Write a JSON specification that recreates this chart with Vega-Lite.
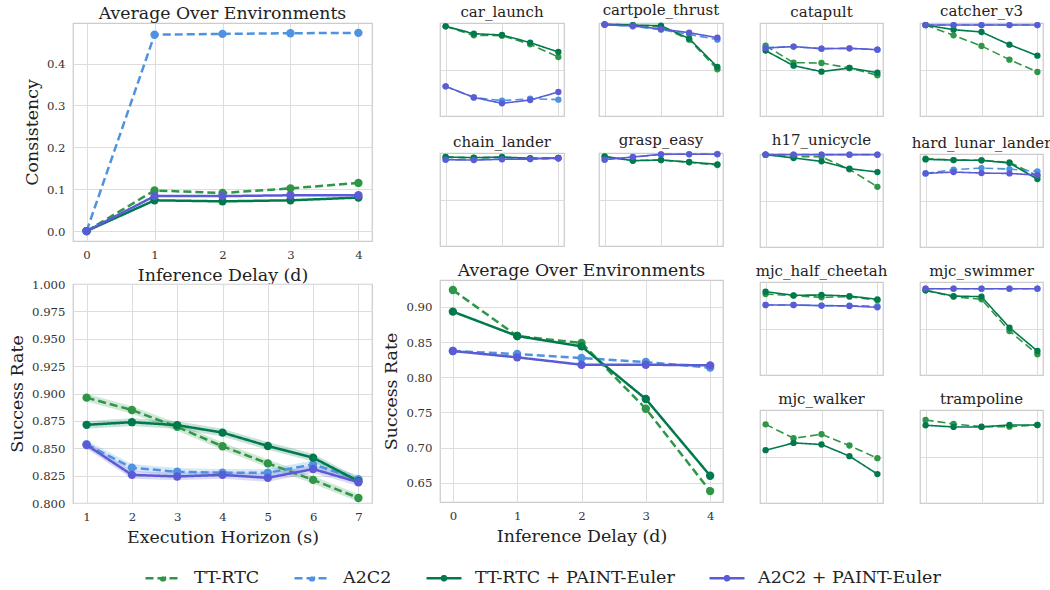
{
"$schema": "https://vega.github.io/schema/vega-lite/v6.json",
"background": "white",
"padding": {"left": 7, "top": 2, "right": 5, "bottom": 5},
"config": {
  "font": "DejaVu Serif",
  "view": {"stroke": "#cccccc", "strokeWidth": 1.25},
  "axis": {"domain": false, "ticks": false, "grid": true, "gridColor": "#dddddd", "gridWidth": 1, "labelFont": "DejaVu Serif", "labelFontSize": 11.7, "labelColor": "#333333", "labelPadding": 8, "labelOverlap": false, "titleFont": "DejaVu Serif", "titleFontSize": 17.4, "titleFontWeight": "normal", "titleColor": "#222222"},
  "axisX": {"titlePadding": 6},
  "axisY": {"titlePadding": 5},
  "title": {"font": "DejaVu Serif", "fontSize": 17.3, "fontWeight": "normal", "color": "#222222", "offset": 1},
  "legend": {"orient": "none", "legendX": 71, "legendY": 536, "direction": "horizontal", "columns": 4, "symbolType": "M-1,0L1,0M-0.12,0A0.12,0.12,0,1,0,0.12,0A0.12,0.12,0,1,0,-0.12,0", "symbolSize": 1225, "symbolStrokeWidth": 2.5, "labelFont": "DejaVu Serif", "labelFontSize": 17.5, "labelColor": "#222222", "labelOffset": 12, "labelLimit": 0, "columnPadding": 29}
},
"datasets": {
"d": [
{"panel":"consistency","method":"TT-RTC","x":0,"y":0},{"panel":"consistency","method":"TT-RTC","x":1,"y":0.097},{"panel":"consistency","method":"TT-RTC","x":2,"y":0.091},{"panel":"consistency","method":"TT-RTC","x":3,"y":0.102},{"panel":"consistency","method":"TT-RTC","x":4,"y":0.115},
{"panel":"consistency","method":"A2C2","x":0,"y":0},{"panel":"consistency","method":"A2C2","x":1,"y":0.469},{"panel":"consistency","method":"A2C2","x":2,"y":0.471},{"panel":"consistency","method":"A2C2","x":3,"y":0.4725},{"panel":"consistency","method":"A2C2","x":4,"y":0.4735},
{"panel":"consistency","method":"TT-RTC + PAINT-Euler","x":0,"y":0},{"panel":"consistency","method":"TT-RTC + PAINT-Euler","x":1,"y":0.0735},{"panel":"consistency","method":"TT-RTC + PAINT-Euler","x":2,"y":0.071},{"panel":"consistency","method":"TT-RTC + PAINT-Euler","x":3,"y":0.0735},{"panel":"consistency","method":"TT-RTC + PAINT-Euler","x":4,"y":0.080},
{"panel":"consistency","method":"A2C2 + PAINT-Euler","x":0,"y":0},{"panel":"consistency","method":"A2C2 + PAINT-Euler","x":1,"y":0.0835},{"panel":"consistency","method":"A2C2 + PAINT-Euler","x":2,"y":0.0835},{"panel":"consistency","method":"A2C2 + PAINT-Euler","x":3,"y":0.0855},{"panel":"consistency","method":"A2C2 + PAINT-Euler","x":4,"y":0.0855},

{"panel":"horizon","method":"TT-RTC","x":1,"y":0.8962},{"panel":"horizon","method":"TT-RTC","x":2,"y":0.8849},{"panel":"horizon","method":"TT-RTC","x":3,"y":0.8695},{"panel":"horizon","method":"TT-RTC","x":4,"y":0.8518},{"panel":"horizon","method":"TT-RTC","x":5,"y":0.8362},{"panel":"horizon","method":"TT-RTC","x":6,"y":0.8211},{"panel":"horizon","method":"TT-RTC","x":7,"y":0.8046},
{"panel":"horizon","method":"A2C2","x":1,"y":0.8536},{"panel":"horizon","method":"A2C2","x":2,"y":0.8322},{"panel":"horizon","method":"A2C2","x":3,"y":0.8285},{"panel":"horizon","method":"A2C2","x":4,"y":0.8276},{"panel":"horizon","method":"A2C2","x":5,"y":0.8276},{"panel":"horizon","method":"A2C2","x":6,"y":0.8352},{"panel":"horizon","method":"A2C2","x":7,"y":0.8218},
{"panel":"horizon","method":"TT-RTC + PAINT-Euler","x":1,"y":0.8714},{"panel":"horizon","method":"TT-RTC + PAINT-Euler","x":2,"y":0.8738},{"panel":"horizon","method":"TT-RTC + PAINT-Euler","x":3,"y":0.8711},{"panel":"horizon","method":"TT-RTC + PAINT-Euler","x":4,"y":0.8643},{"panel":"horizon","method":"TT-RTC + PAINT-Euler","x":5,"y":0.8521},{"panel":"horizon","method":"TT-RTC + PAINT-Euler","x":6,"y":0.8414},{"panel":"horizon","method":"TT-RTC + PAINT-Euler","x":7,"y":0.8199},
{"panel":"horizon","method":"A2C2 + PAINT-Euler","x":1,"y":0.853},{"panel":"horizon","method":"A2C2 + PAINT-Euler","x":2,"y":0.8257},{"panel":"horizon","method":"A2C2 + PAINT-Euler","x":3,"y":0.8242},{"panel":"horizon","method":"A2C2 + PAINT-Euler","x":4,"y":0.8257},{"panel":"horizon","method":"A2C2 + PAINT-Euler","x":5,"y":0.823},{"panel":"horizon","method":"A2C2 + PAINT-Euler","x":6,"y":0.831},{"panel":"horizon","method":"A2C2 + PAINT-Euler","x":7,"y":0.819},

{"panel":"success","method":"TT-RTC","x":0,"y":0.9242},{"panel":"success","method":"TT-RTC","x":1,"y":0.8587},{"panel":"success","method":"TT-RTC","x":2,"y":0.8488},{"panel":"success","method":"TT-RTC","x":3,"y":0.7553},{"panel":"success","method":"TT-RTC","x":4,"y":0.6381},
{"panel":"success","method":"A2C2","x":0,"y":0.8374},{"panel":"success","method":"A2C2","x":1,"y":0.8331},{"panel":"success","method":"A2C2","x":2,"y":0.8274},{"panel":"success","method":"A2C2","x":3,"y":0.8217},{"panel":"success","method":"A2C2","x":4,"y":0.8137},
{"panel":"success","method":"TT-RTC + PAINT-Euler","x":0,"y":0.8934},{"panel":"success","method":"TT-RTC + PAINT-Euler","x":1,"y":0.8587},{"panel":"success","method":"TT-RTC + PAINT-Euler","x":2,"y":0.844},{"panel":"success","method":"TT-RTC + PAINT-Euler","x":3,"y":0.7691},{"panel":"success","method":"TT-RTC + PAINT-Euler","x":4,"y":0.660},
{"panel":"success","method":"A2C2 + PAINT-Euler","x":0,"y":0.8374},{"panel":"success","method":"A2C2 + PAINT-Euler","x":1,"y":0.8284},{"panel":"success","method":"A2C2 + PAINT-Euler","x":2,"y":0.8179},{"panel":"success","method":"A2C2 + PAINT-Euler","x":3,"y":0.8179},{"panel":"success","method":"A2C2 + PAINT-Euler","x":4,"y":0.817},

{"panel":"car_launch","method":"TT-RTC","x":0,"y":0.964},{"panel":"car_launch","method":"TT-RTC","x":1,"y":0.867},{"panel":"car_launch","method":"TT-RTC","x":2,"y":0.864},{"panel":"car_launch","method":"TT-RTC","x":3,"y":0.771},{"panel":"car_launch","method":"TT-RTC","x":4,"y":0.634},
{"panel":"car_launch","method":"A2C2","x":0,"y":0.319},{"panel":"car_launch","method":"A2C2","x":1,"y":0.2},{"panel":"car_launch","method":"A2C2","x":2,"y":0.165},{"panel":"car_launch","method":"A2C2","x":3,"y":0.186},{"panel":"car_launch","method":"A2C2","x":4,"y":0.176},
{"panel":"car_launch","method":"TT-RTC + PAINT-Euler","x":0,"y":0.964},{"panel":"car_launch","method":"TT-RTC + PAINT-Euler","x":1,"y":0.885},{"panel":"car_launch","method":"TT-RTC + PAINT-Euler","x":2,"y":0.871},{"panel":"car_launch","method":"TT-RTC + PAINT-Euler","x":3,"y":0.789},{"panel":"car_launch","method":"TT-RTC + PAINT-Euler","x":4,"y":0.688},
{"panel":"car_launch","method":"A2C2 + PAINT-Euler","x":0,"y":0.319},{"panel":"car_launch","method":"A2C2 + PAINT-Euler","x":1,"y":0.2},{"panel":"car_launch","method":"A2C2 + PAINT-Euler","x":2,"y":0.136},{"panel":"car_launch","method":"A2C2 + PAINT-Euler","x":3,"y":0.172},{"panel":"car_launch","method":"A2C2 + PAINT-Euler","x":4,"y":0.258},

{"panel":"cartpole_thrust","method":"TT-RTC","x":0,"y":0.986},{"panel":"cartpole_thrust","method":"TT-RTC","x":1,"y":0.978},{"panel":"cartpole_thrust","method":"TT-RTC","x":2,"y":0.957},{"panel":"cartpole_thrust","method":"TT-RTC","x":3,"y":0.821},{"panel":"cartpole_thrust","method":"TT-RTC","x":4,"y":0.502},
{"panel":"cartpole_thrust","method":"A2C2","x":0,"y":0.982},{"panel":"cartpole_thrust","method":"A2C2","x":1,"y":0.965},{"panel":"cartpole_thrust","method":"A2C2","x":2,"y":0.928},{"panel":"cartpole_thrust","method":"A2C2","x":3,"y":0.878},{"panel":"cartpole_thrust","method":"A2C2","x":4,"y":0.821},
{"panel":"cartpole_thrust","method":"TT-RTC + PAINT-Euler","x":0,"y":0.986},{"panel":"cartpole_thrust","method":"TT-RTC + PAINT-Euler","x":1,"y":0.978},{"panel":"cartpole_thrust","method":"TT-RTC + PAINT-Euler","x":2,"y":0.971},{"panel":"cartpole_thrust","method":"TT-RTC + PAINT-Euler","x":3,"y":0.832},{"panel":"cartpole_thrust","method":"TT-RTC + PAINT-Euler","x":4,"y":0.527},
{"panel":"cartpole_thrust","method":"A2C2 + PAINT-Euler","x":0,"y":0.982},{"panel":"cartpole_thrust","method":"A2C2 + PAINT-Euler","x":1,"y":0.968},{"panel":"cartpole_thrust","method":"A2C2 + PAINT-Euler","x":2,"y":0.935},{"panel":"cartpole_thrust","method":"A2C2 + PAINT-Euler","x":3,"y":0.896},{"panel":"cartpole_thrust","method":"A2C2 + PAINT-Euler","x":4,"y":0.842},

{"panel":"catapult","method":"TT-RTC","x":0,"y":0.756},{"panel":"catapult","method":"TT-RTC","x":1,"y":0.573},{"panel":"catapult","method":"TT-RTC","x":2,"y":0.570},{"panel":"catapult","method":"TT-RTC","x":3,"y":0.516},{"panel":"catapult","method":"TT-RTC","x":4,"y":0.437},
{"panel":"catapult","method":"A2C2","x":0,"y":0.735},{"panel":"catapult","method":"A2C2","x":1,"y":0.746},{"panel":"catapult","method":"A2C2","x":2,"y":0.724},{"panel":"catapult","method":"A2C2","x":3,"y":0.728},{"panel":"catapult","method":"A2C2","x":4,"y":0.713},
{"panel":"catapult","method":"TT-RTC + PAINT-Euler","x":0,"y":0.703},{"panel":"catapult","method":"TT-RTC + PAINT-Euler","x":1,"y":0.541},{"panel":"catapult","method":"TT-RTC + PAINT-Euler","x":2,"y":0.477},{"panel":"catapult","method":"TT-RTC + PAINT-Euler","x":3,"y":0.516},{"panel":"catapult","method":"TT-RTC + PAINT-Euler","x":4,"y":0.466},
{"panel":"catapult","method":"A2C2 + PAINT-Euler","x":0,"y":0.731},{"panel":"catapult","method":"A2C2 + PAINT-Euler","x":1,"y":0.746},{"panel":"catapult","method":"A2C2 + PAINT-Euler","x":2,"y":0.724},{"panel":"catapult","method":"A2C2 + PAINT-Euler","x":3,"y":0.728},{"panel":"catapult","method":"A2C2 + PAINT-Euler","x":4,"y":0.713},

{"panel":"catcher_v3","method":"TT-RTC","x":0,"y":0.978},{"panel":"catcher_v3","method":"TT-RTC","x":1,"y":0.867},{"panel":"catcher_v3","method":"TT-RTC","x":2,"y":0.753},{"panel":"catcher_v3","method":"TT-RTC","x":3,"y":0.606},{"panel":"catcher_v3","method":"TT-RTC","x":4,"y":0.473},
{"panel":"catcher_v3","method":"A2C2","x":0,"y":0.978},{"panel":"catcher_v3","method":"A2C2","x":1,"y":0.978},{"panel":"catcher_v3","method":"A2C2","x":2,"y":0.978},{"panel":"catcher_v3","method":"A2C2","x":3,"y":0.978},{"panel":"catcher_v3","method":"A2C2","x":4,"y":0.978},
{"panel":"catcher_v3","method":"TT-RTC + PAINT-Euler","x":0,"y":0.978},{"panel":"catcher_v3","method":"TT-RTC + PAINT-Euler","x":1,"y":0.928},{"panel":"catcher_v3","method":"TT-RTC + PAINT-Euler","x":2,"y":0.903},{"panel":"catcher_v3","method":"TT-RTC + PAINT-Euler","x":3,"y":0.767},{"panel":"catcher_v3","method":"TT-RTC + PAINT-Euler","x":4,"y":0.649},
{"panel":"catcher_v3","method":"A2C2 + PAINT-Euler","x":0,"y":0.978},{"panel":"catcher_v3","method":"A2C2 + PAINT-Euler","x":1,"y":0.978},{"panel":"catcher_v3","method":"A2C2 + PAINT-Euler","x":2,"y":0.978},{"panel":"catcher_v3","method":"A2C2 + PAINT-Euler","x":3,"y":0.978},{"panel":"catcher_v3","method":"A2C2 + PAINT-Euler","x":4,"y":0.978},

{"panel":"chain_lander","method":"TT-RTC","x":0,"y":0.955},{"panel":"chain_lander","method":"TT-RTC","x":1,"y":0.948},{"panel":"chain_lander","method":"TT-RTC","x":2,"y":0.952},{"panel":"chain_lander","method":"TT-RTC","x":3,"y":0.945},{"panel":"chain_lander","method":"TT-RTC","x":4,"y":0.946},
{"panel":"chain_lander","method":"A2C2","x":0,"y":0.93},{"panel":"chain_lander","method":"A2C2","x":1,"y":0.93},{"panel":"chain_lander","method":"A2C2","x":2,"y":0.935},{"panel":"chain_lander","method":"A2C2","x":3,"y":0.935},{"panel":"chain_lander","method":"A2C2","x":4,"y":0.94},
{"panel":"chain_lander","method":"TT-RTC + PAINT-Euler","x":0,"y":0.957},{"panel":"chain_lander","method":"TT-RTC + PAINT-Euler","x":1,"y":0.95},{"panel":"chain_lander","method":"TT-RTC + PAINT-Euler","x":2,"y":0.957},{"panel":"chain_lander","method":"TT-RTC + PAINT-Euler","x":3,"y":0.943},{"panel":"chain_lander","method":"TT-RTC + PAINT-Euler","x":4,"y":0.946},
{"panel":"chain_lander","method":"A2C2 + PAINT-Euler","x":0,"y":0.928},{"panel":"chain_lander","method":"A2C2 + PAINT-Euler","x":1,"y":0.924},{"panel":"chain_lander","method":"A2C2 + PAINT-Euler","x":2,"y":0.932},{"panel":"chain_lander","method":"A2C2 + PAINT-Euler","x":3,"y":0.935},{"panel":"chain_lander","method":"A2C2 + PAINT-Euler","x":4,"y":0.943},

{"panel":"grasp_easy","method":"TT-RTC","x":0,"y":0.96},{"panel":"grasp_easy","method":"TT-RTC","x":1,"y":0.92},{"panel":"grasp_easy","method":"TT-RTC","x":2,"y":0.925},{"panel":"grasp_easy","method":"TT-RTC","x":3,"y":0.90},{"panel":"grasp_easy","method":"TT-RTC","x":4,"y":0.87},
{"panel":"grasp_easy","method":"A2C2","x":0,"y":0.93},{"panel":"grasp_easy","method":"A2C2","x":1,"y":0.955},{"panel":"grasp_easy","method":"A2C2","x":2,"y":0.985},{"panel":"grasp_easy","method":"A2C2","x":3,"y":0.988},{"panel":"grasp_easy","method":"A2C2","x":4,"y":0.99},
{"panel":"grasp_easy","method":"TT-RTC + PAINT-Euler","x":0,"y":0.964},{"panel":"grasp_easy","method":"TT-RTC + PAINT-Euler","x":1,"y":0.917},{"panel":"grasp_easy","method":"TT-RTC + PAINT-Euler","x":2,"y":0.924},{"panel":"grasp_easy","method":"TT-RTC + PAINT-Euler","x":3,"y":0.903},{"panel":"grasp_easy","method":"TT-RTC + PAINT-Euler","x":4,"y":0.878},
{"panel":"grasp_easy","method":"A2C2 + PAINT-Euler","x":0,"y":0.928},{"panel":"grasp_easy","method":"A2C2 + PAINT-Euler","x":1,"y":0.957},{"panel":"grasp_easy","method":"A2C2 + PAINT-Euler","x":2,"y":0.986},{"panel":"grasp_easy","method":"A2C2 + PAINT-Euler","x":3,"y":0.986},{"panel":"grasp_easy","method":"A2C2 + PAINT-Euler","x":4,"y":0.986},

{"panel":"h17_unicycle","method":"TT-RTC","x":0,"y":0.993},{"panel":"h17_unicycle","method":"TT-RTC","x":1,"y":0.97},{"panel":"h17_unicycle","method":"TT-RTC","x":2,"y":0.97},{"panel":"h17_unicycle","method":"TT-RTC","x":3,"y":0.835},{"panel":"h17_unicycle","method":"TT-RTC","x":4,"y":0.647},
{"panel":"h17_unicycle","method":"A2C2","x":0,"y":0.993},{"panel":"h17_unicycle","method":"A2C2","x":1,"y":0.993},{"panel":"h17_unicycle","method":"A2C2","x":2,"y":0.993},{"panel":"h17_unicycle","method":"A2C2","x":3,"y":0.993},{"panel":"h17_unicycle","method":"A2C2","x":4,"y":0.993},
{"panel":"h17_unicycle","method":"TT-RTC + PAINT-Euler","x":0,"y":0.993},{"panel":"h17_unicycle","method":"TT-RTC + PAINT-Euler","x":1,"y":0.957},{"panel":"h17_unicycle","method":"TT-RTC + PAINT-Euler","x":2,"y":0.921},{"panel":"h17_unicycle","method":"TT-RTC + PAINT-Euler","x":3,"y":0.842},{"panel":"h17_unicycle","method":"TT-RTC + PAINT-Euler","x":4,"y":0.806},
{"panel":"h17_unicycle","method":"A2C2 + PAINT-Euler","x":0,"y":0.993},{"panel":"h17_unicycle","method":"A2C2 + PAINT-Euler","x":1,"y":0.993},{"panel":"h17_unicycle","method":"A2C2 + PAINT-Euler","x":2,"y":0.993},{"panel":"h17_unicycle","method":"A2C2 + PAINT-Euler","x":3,"y":0.993},{"panel":"h17_unicycle","method":"A2C2 + PAINT-Euler","x":4,"y":0.993},

{"panel":"hard_lunar_lander","method":"TT-RTC","x":0,"y":0.95},{"panel":"hard_lunar_lander","method":"TT-RTC","x":1,"y":0.935},{"panel":"hard_lunar_lander","method":"TT-RTC","x":2,"y":0.932},{"panel":"hard_lunar_lander","method":"TT-RTC","x":3,"y":0.91},{"panel":"hard_lunar_lander","method":"TT-RTC","x":4,"y":0.766},
{"panel":"hard_lunar_lander","method":"A2C2","x":0,"y":0.791},{"panel":"hard_lunar_lander","method":"A2C2","x":1,"y":0.831},{"panel":"hard_lunar_lander","method":"A2C2","x":2,"y":0.849},{"panel":"hard_lunar_lander","method":"A2C2","x":3,"y":0.838},{"panel":"hard_lunar_lander","method":"A2C2","x":4,"y":0.813},
{"panel":"hard_lunar_lander","method":"TT-RTC + PAINT-Euler","x":0,"y":0.942},{"panel":"hard_lunar_lander","method":"TT-RTC + PAINT-Euler","x":1,"y":0.935},{"panel":"hard_lunar_lander","method":"TT-RTC + PAINT-Euler","x":2,"y":0.932},{"panel":"hard_lunar_lander","method":"TT-RTC + PAINT-Euler","x":3,"y":0.903},{"panel":"hard_lunar_lander","method":"TT-RTC + PAINT-Euler","x":4,"y":0.73},
{"panel":"hard_lunar_lander","method":"A2C2 + PAINT-Euler","x":0,"y":0.791},{"panel":"hard_lunar_lander","method":"A2C2 + PAINT-Euler","x":1,"y":0.806},{"panel":"hard_lunar_lander","method":"A2C2 + PAINT-Euler","x":2,"y":0.795},{"panel":"hard_lunar_lander","method":"A2C2 + PAINT-Euler","x":3,"y":0.791},{"panel":"hard_lunar_lander","method":"A2C2 + PAINT-Euler","x":4,"y":0.773},

{"panel":"mjc_half_cheetah","method":"TT-RTC","x":0,"y":0.871},{"panel":"mjc_half_cheetah","method":"TT-RTC","x":1,"y":0.853},{"panel":"mjc_half_cheetah","method":"TT-RTC","x":2,"y":0.835},{"panel":"mjc_half_cheetah","method":"TT-RTC","x":3,"y":0.842},{"panel":"mjc_half_cheetah","method":"TT-RTC","x":4,"y":0.803},
{"panel":"mjc_half_cheetah","method":"A2C2","x":0,"y":0.753},{"panel":"mjc_half_cheetah","method":"A2C2","x":1,"y":0.753},{"panel":"mjc_half_cheetah","method":"A2C2","x":2,"y":0.746},{"panel":"mjc_half_cheetah","method":"A2C2","x":3,"y":0.745},{"panel":"mjc_half_cheetah","method":"A2C2","x":4,"y":0.74},
{"panel":"mjc_half_cheetah","method":"TT-RTC + PAINT-Euler","x":0,"y":0.896},{"panel":"mjc_half_cheetah","method":"TT-RTC + PAINT-Euler","x":1,"y":0.857},{"panel":"mjc_half_cheetah","method":"TT-RTC + PAINT-Euler","x":2,"y":0.86},{"panel":"mjc_half_cheetah","method":"TT-RTC + PAINT-Euler","x":3,"y":0.849},{"panel":"mjc_half_cheetah","method":"TT-RTC + PAINT-Euler","x":4,"y":0.814},
{"panel":"mjc_half_cheetah","method":"A2C2 + PAINT-Euler","x":0,"y":0.753},{"panel":"mjc_half_cheetah","method":"A2C2 + PAINT-Euler","x":1,"y":0.753},{"panel":"mjc_half_cheetah","method":"A2C2 + PAINT-Euler","x":2,"y":0.746},{"panel":"mjc_half_cheetah","method":"A2C2 + PAINT-Euler","x":3,"y":0.742},{"panel":"mjc_half_cheetah","method":"A2C2 + PAINT-Euler","x":4,"y":0.728},

{"panel":"mjc_swimmer","method":"TT-RTC","x":0,"y":0.910},{"panel":"mjc_swimmer","method":"TT-RTC","x":1,"y":0.842},{"panel":"mjc_swimmer","method":"TT-RTC","x":2,"y":0.814},{"panel":"mjc_swimmer","method":"TT-RTC","x":3,"y":0.473},{"panel":"mjc_swimmer","method":"TT-RTC","x":4,"y":0.222},
{"panel":"mjc_swimmer","method":"A2C2","x":0,"y":0.928},{"panel":"mjc_swimmer","method":"A2C2","x":1,"y":0.928},{"panel":"mjc_swimmer","method":"A2C2","x":2,"y":0.928},{"panel":"mjc_swimmer","method":"A2C2","x":3,"y":0.928},{"panel":"mjc_swimmer","method":"A2C2","x":4,"y":0.928},
{"panel":"mjc_swimmer","method":"TT-RTC + PAINT-Euler","x":0,"y":0.910},{"panel":"mjc_swimmer","method":"TT-RTC + PAINT-Euler","x":1,"y":0.849},{"panel":"mjc_swimmer","method":"TT-RTC + PAINT-Euler","x":2,"y":0.842},{"panel":"mjc_swimmer","method":"TT-RTC + PAINT-Euler","x":3,"y":0.509},{"panel":"mjc_swimmer","method":"TT-RTC + PAINT-Euler","x":4,"y":0.258},
{"panel":"mjc_swimmer","method":"A2C2 + PAINT-Euler","x":0,"y":0.928},{"panel":"mjc_swimmer","method":"A2C2 + PAINT-Euler","x":1,"y":0.928},{"panel":"mjc_swimmer","method":"A2C2 + PAINT-Euler","x":2,"y":0.928},{"panel":"mjc_swimmer","method":"A2C2 + PAINT-Euler","x":3,"y":0.928},{"panel":"mjc_swimmer","method":"A2C2 + PAINT-Euler","x":4,"y":0.928},

{"panel":"mjc_walker","method":"TT-RTC","x":0,"y":0.846},{"panel":"mjc_walker","method":"TT-RTC","x":1,"y":0.696},{"panel":"mjc_walker","method":"TT-RTC","x":2,"y":0.739},{"panel":"mjc_walker","method":"TT-RTC","x":3,"y":0.618},{"panel":"mjc_walker","method":"TT-RTC","x":4,"y":0.482},
{"panel":"mjc_walker","method":"TT-RTC + PAINT-Euler","x":0,"y":0.568},{"panel":"mjc_walker","method":"TT-RTC + PAINT-Euler","x":1,"y":0.646},{"panel":"mjc_walker","method":"TT-RTC + PAINT-Euler","x":2,"y":0.629},{"panel":"mjc_walker","method":"TT-RTC + PAINT-Euler","x":3,"y":0.504},{"panel":"mjc_walker","method":"TT-RTC + PAINT-Euler","x":4,"y":0.311},

{"panel":"trampoline","method":"TT-RTC","x":0,"y":0.893},{"panel":"trampoline","method":"TT-RTC","x":1,"y":0.85},{"panel":"trampoline","method":"TT-RTC","x":2,"y":0.821},{"panel":"trampoline","method":"TT-RTC","x":3,"y":0.821},{"panel":"trampoline","method":"TT-RTC","x":4,"y":0.839},
{"panel":"trampoline","method":"TT-RTC + PAINT-Euler","x":0,"y":0.836},{"panel":"trampoline","method":"TT-RTC + PAINT-Euler","x":1,"y":0.818},{"panel":"trampoline","method":"TT-RTC + PAINT-Euler","x":2,"y":0.818},{"panel":"trampoline","method":"TT-RTC + PAINT-Euler","x":3,"y":0.839},{"panel":"trampoline","method":"TT-RTC + PAINT-Euler","x":4,"y":0.839}
],
"bands": [
{"method":"TT-RTC","x":1,"lo":0.8927,"hi":0.8997},{"method":"TT-RTC","x":2,"lo":0.8814,"hi":0.8884},{"method":"TT-RTC","x":3,"lo":0.8660,"hi":0.8730},{"method":"TT-RTC","x":4,"lo":0.8483,"hi":0.8553},{"method":"TT-RTC","x":5,"lo":0.8327,"hi":0.8397},{"method":"TT-RTC","x":6,"lo":0.8176,"hi":0.8246},{"method":"TT-RTC","x":7,"lo":0.8011,"hi":0.8081},
{"method":"A2C2","x":1,"lo":0.8501,"hi":0.8571},{"method":"A2C2","x":2,"lo":0.8287,"hi":0.8357},{"method":"A2C2","x":3,"lo":0.8250,"hi":0.8320},{"method":"A2C2","x":4,"lo":0.8241,"hi":0.8311},{"method":"A2C2","x":5,"lo":0.8241,"hi":0.8311},{"method":"A2C2","x":6,"lo":0.8317,"hi":0.8387},{"method":"A2C2","x":7,"lo":0.8183,"hi":0.8253},
{"method":"TT-RTC + PAINT-Euler","x":1,"lo":0.8679,"hi":0.8749},{"method":"TT-RTC + PAINT-Euler","x":2,"lo":0.8703,"hi":0.8773},{"method":"TT-RTC + PAINT-Euler","x":3,"lo":0.8676,"hi":0.8746},{"method":"TT-RTC + PAINT-Euler","x":4,"lo":0.8608,"hi":0.8678},{"method":"TT-RTC + PAINT-Euler","x":5,"lo":0.8486,"hi":0.8556},{"method":"TT-RTC + PAINT-Euler","x":6,"lo":0.8379,"hi":0.8449},{"method":"TT-RTC + PAINT-Euler","x":7,"lo":0.8164,"hi":0.8234},
{"method":"A2C2 + PAINT-Euler","x":1,"lo":0.8495,"hi":0.8565},{"method":"A2C2 + PAINT-Euler","x":2,"lo":0.8222,"hi":0.8292},{"method":"A2C2 + PAINT-Euler","x":3,"lo":0.8207,"hi":0.8277},{"method":"A2C2 + PAINT-Euler","x":4,"lo":0.8222,"hi":0.8292},{"method":"A2C2 + PAINT-Euler","x":5,"lo":0.8195,"hi":0.8265},{"method":"A2C2 + PAINT-Euler","x":6,"lo":0.8275,"hi":0.8345},{"method":"A2C2 + PAINT-Euler","x":7,"lo":0.8155,"hi":0.8225}
]
},
"spacing": 9,
"hconcat": [
 {"bounds": "flush", "spacing": 43, "vconcat": [
  {"width": 299, "height": 218, "title": "Average Over Environments",
   "data": {"name": "d"}, "transform": [{"filter": "datum.panel === 'consistency'"}],
   "mark": {"type": "line", "strokeWidth": 2.5, "point": {"filled": true, "size": 70, "opacity": 1}},
   "encoding": {
    "x": {"field": "x", "type": "quantitative", "scale": {"domain": [-0.2, 4.2], "nice": false, "zero": false}, "axis": {"values": [0,1,2,3,4], "format": "d", "title": "Inference Delay (d)"}},
    "y": {"field": "y", "type": "quantitative", "scale": {"domain": [-0.0237, 0.497], "nice": false, "zero": false}, "axis": {"values": [0,0.1,0.2,0.3,0.4], "format": ".1f", "title": "Consistency"}},
    "color": {"field": "method", "type": "nominal", "scale": {"domain": ["TT-RTC","A2C2","TT-RTC + PAINT-Euler","A2C2 + PAINT-Euler"], "range": ["#2e9646","#4f93e0","#007a4d","#5b5bd6"]}, "legend": {"title": null}},
    "strokeDash": {"field": "method", "type": "nominal", "scale": {"domain": ["TT-RTC","A2C2","TT-RTC + PAINT-Euler","A2C2 + PAINT-Euler"], "range": [[8,4],[8,4],[1,0],[1,0]]}, "legend": {"title": null}}
   }},
  {"width": 299, "height": 219,
   "layer": [
    {"data": {"name": "bands"},
     "mark": {"type": "area", "opacity": 0.22},
     "encoding": {
      "x": {"field": "x", "type": "quantitative", "scale": {"domain": [0.7, 7.3], "nice": false, "zero": false}, "axis": {"values": [1,2,3,4,5,6,7], "format": "d", "title": "Execution Horizon (s)"}},
      "y": {"field": "lo", "type": "quantitative", "scale": {"domain": [0.8, 1.0], "nice": false, "zero": false}, "axis": {"values": [0.8,0.825,0.85,0.875,0.9,0.925,0.95,0.975,1.0], "format": ".3f", "title": "Success Rate"}},
      "y2": {"field": "hi"},
      "color": {"field": "method", "type": "nominal", "scale": {"domain": ["TT-RTC","A2C2","TT-RTC + PAINT-Euler","A2C2 + PAINT-Euler"], "range": ["#2e9646","#4f93e0","#007a4d","#5b5bd6"]}, "legend": {"title": null}}
     }},
    {"data": {"name": "d"}, "transform": [{"filter": "datum.panel === 'horizon'"}],
     "mark": {"type": "line", "strokeWidth": 2.5, "point": {"filled": true, "size": 70, "opacity": 1}},
     "encoding": {
      "x": {"field": "x", "type": "quantitative", "scale": {"domain": [0.7, 7.3], "nice": false, "zero": false}, "axis": {"values": [1,2,3,4,5,6,7], "format": "d", "title": "Execution Horizon (s)"}},
      "y": {"field": "y", "type": "quantitative", "scale": {"domain": [0.8, 1.0], "nice": false, "zero": false}, "axis": {"values": [0.8,0.825,0.85,0.875,0.9,0.925,0.95,0.975,1.0], "format": ".3f", "title": "Success Rate"}},
      "color": {"field": "method", "type": "nominal", "scale": {"domain": ["TT-RTC","A2C2","TT-RTC + PAINT-Euler","A2C2 + PAINT-Euler"], "range": ["#2e9646","#4f93e0","#007a4d","#5b5bd6"]}, "legend": {"title": null}},
      "strokeDash": {"field": "method", "type": "nominal", "scale": {"domain": ["TT-RTC","A2C2","TT-RTC + PAINT-Euler","A2C2 + PAINT-Euler"], "range": [[8,4],[8,4],[1,0],[1,0]]}, "legend": {"title": null}}
     }}
   ]}
 ]},
 {"spacing": 31, "hconcat": [
  {"spacing": 14, "vconcat": [
   {"spacing": 15, "vconcat": [
   {"bounds": "flush", "spacing": 35, "hconcat": [
    {"width": 124, "height": 93, "title": {"text": "car_launch", "fontSize": 15, "offset": 3}, "data": {"name": "d"}, "transform": [{"filter": "datum.panel === 'car_launch'"}],
     "mark": {"type": "line", "strokeWidth": 1.6, "point": {"filled": true, "size": 40, "opacity": 1}},
     "encoding": {"x": {"field": "x", "type": "quantitative", "scale": {"domain": [-0.2, 4.2], "nice": false, "zero": false}, "axis": {"values": [0,2,4], "labels": false, "title": null}}, "y": {"field": "y", "type": "quantitative", "scale": {"domain": [0, 1], "nice": false}, "axis": {"values": [0.5], "labels": false, "title": null}},
      "color": {"field": "method", "type": "nominal", "scale": {"domain": ["TT-RTC","A2C2","TT-RTC + PAINT-Euler","A2C2 + PAINT-Euler"], "range": ["#2e9646","#4f93e0","#007a4d","#5b5bd6"]}, "legend": {"title": null}},
      "strokeDash": {"field": "method", "type": "nominal", "scale": {"domain": ["TT-RTC","A2C2","TT-RTC + PAINT-Euler","A2C2 + PAINT-Euler"], "range": [[8,4],[8,4],[1,0],[1,0]]}, "legend": {"title": null}}}},
    {"width": 124, "height": 93, "title": {"text": "cartpole_thrust", "fontSize": 15, "offset": 3}, "data": {"name": "d"}, "transform": [{"filter": "datum.panel === 'cartpole_thrust'"}],
     "mark": {"type": "line", "strokeWidth": 1.6, "point": {"filled": true, "size": 40, "opacity": 1}},
     "encoding": {"x": {"field": "x", "type": "quantitative", "scale": {"domain": [-0.2, 4.2], "nice": false, "zero": false}, "axis": {"values": [0,2,4], "labels": false, "title": null}}, "y": {"field": "y", "type": "quantitative", "scale": {"domain": [0, 1], "nice": false}, "axis": {"values": [0.5], "labels": false, "title": null}},
      "color": {"field": "method", "type": "nominal", "scale": {"domain": ["TT-RTC","A2C2","TT-RTC + PAINT-Euler","A2C2 + PAINT-Euler"], "range": ["#2e9646","#4f93e0","#007a4d","#5b5bd6"]}, "legend": {"title": null}},
      "strokeDash": {"field": "method", "type": "nominal", "scale": {"domain": ["TT-RTC","A2C2","TT-RTC + PAINT-Euler","A2C2 + PAINT-Euler"], "range": [[8,4],[8,4],[1,0],[1,0]]}, "legend": {"title": null}}}}
   ]},
   {"bounds": "flush", "spacing": 35, "hconcat": [
    {"width": 124, "height": 93, "title": {"text": "chain_lander", "fontSize": 15, "offset": 3}, "data": {"name": "d"}, "transform": [{"filter": "datum.panel === 'chain_lander'"}],
     "mark": {"type": "line", "strokeWidth": 1.6, "point": {"filled": true, "size": 40, "opacity": 1}},
     "encoding": {"x": {"field": "x", "type": "quantitative", "scale": {"domain": [-0.2, 4.2], "nice": false, "zero": false}, "axis": {"values": [0,2,4], "labels": false, "title": null}}, "y": {"field": "y", "type": "quantitative", "scale": {"domain": [0, 1], "nice": false}, "axis": {"values": [0.5], "labels": false, "title": null}},
      "color": {"field": "method", "type": "nominal", "scale": {"domain": ["TT-RTC","A2C2","TT-RTC + PAINT-Euler","A2C2 + PAINT-Euler"], "range": ["#2e9646","#4f93e0","#007a4d","#5b5bd6"]}, "legend": {"title": null}},
      "strokeDash": {"field": "method", "type": "nominal", "scale": {"domain": ["TT-RTC","A2C2","TT-RTC + PAINT-Euler","A2C2 + PAINT-Euler"], "range": [[8,4],[8,4],[1,0],[1,0]]}, "legend": {"title": null}}}},
    {"width": 124, "height": 93, "title": {"text": "grasp_easy", "fontSize": 15, "offset": 3}, "data": {"name": "d"}, "transform": [{"filter": "datum.panel === 'grasp_easy'"}],
     "mark": {"type": "line", "strokeWidth": 1.6, "point": {"filled": true, "size": 40, "opacity": 1}},
     "encoding": {"x": {"field": "x", "type": "quantitative", "scale": {"domain": [-0.2, 4.2], "nice": false, "zero": false}, "axis": {"values": [0,2,4], "labels": false, "title": null}}, "y": {"field": "y", "type": "quantitative", "scale": {"domain": [0, 1], "nice": false}, "axis": {"values": [0.5], "labels": false, "title": null}},
      "color": {"field": "method", "type": "nominal", "scale": {"domain": ["TT-RTC","A2C2","TT-RTC + PAINT-Euler","A2C2 + PAINT-Euler"], "range": ["#2e9646","#4f93e0","#007a4d","#5b5bd6"]}, "legend": {"title": null}},
      "strokeDash": {"field": "method", "type": "nominal", "scale": {"domain": ["TT-RTC","A2C2","TT-RTC + PAINT-Euler","A2C2 + PAINT-Euler"], "range": [[8,4],[8,4],[1,0],[1,0]]}, "legend": {"title": null}}}}
   ]}
   ]},
   {"width": 283, "height": 222, "title": "Average Over Environments",
    "data": {"name": "d"}, "transform": [{"filter": "datum.panel === 'success'"}],
    "mark": {"type": "line", "strokeWidth": 2.5, "point": {"filled": true, "size": 70, "opacity": 1}},
    "encoding": {
     "x": {"field": "x", "type": "quantitative", "scale": {"domain": [-0.2, 4.2], "nice": false, "zero": false}, "axis": {"values": [0,1,2,3,4], "format": "d", "title": "Inference Delay (d)"}},
     "y": {"field": "y", "type": "quantitative", "scale": {"domain": [0.6226, 0.9384], "nice": false, "zero": false}, "axis": {"values": [0.65,0.7,0.75,0.8,0.85,0.9], "format": ".2f", "title": "Success Rate"}},
     "color": {"field": "method", "type": "nominal", "scale": {"domain": ["TT-RTC","A2C2","TT-RTC + PAINT-Euler","A2C2 + PAINT-Euler"], "range": ["#2e9646","#4f93e0","#007a4d","#5b5bd6"]}, "legend": {"title": null}},
     "strokeDash": {"field": "method", "type": "nominal", "scale": {"domain": ["TT-RTC","A2C2","TT-RTC + PAINT-Euler","A2C2 + PAINT-Euler"], "range": [[8,4],[8,4],[1,0],[1,0]]}, "legend": {"title": null}}
    }}
  ]},
  {"spacing": 15, "vconcat": [
   {"bounds": "flush", "spacing": 37, "hconcat": [
    {"width": 123, "height": 93, "title": {"text": "catapult", "fontSize": 15, "offset": 3}, "data": {"name": "d"}, "transform": [{"filter": "datum.panel === 'catapult'"}],
     "mark": {"type": "line", "strokeWidth": 1.6, "point": {"filled": true, "size": 40, "opacity": 1}},
     "encoding": {"x": {"field": "x", "type": "quantitative", "scale": {"domain": [-0.2, 4.2], "nice": false, "zero": false}, "axis": {"values": [0,2,4], "labels": false, "title": null}}, "y": {"field": "y", "type": "quantitative", "scale": {"domain": [0, 1], "nice": false}, "axis": {"values": [0.5], "labels": false, "title": null}},
      "color": {"field": "method", "type": "nominal", "scale": {"domain": ["TT-RTC","A2C2","TT-RTC + PAINT-Euler","A2C2 + PAINT-Euler"], "range": ["#2e9646","#4f93e0","#007a4d","#5b5bd6"]}, "legend": {"title": null}},
      "strokeDash": {"field": "method", "type": "nominal", "scale": {"domain": ["TT-RTC","A2C2","TT-RTC + PAINT-Euler","A2C2 + PAINT-Euler"], "range": [[8,4],[8,4],[1,0],[1,0]]}, "legend": {"title": null}}}},
    {"width": 123, "height": 93, "title": {"text": "catcher_v3", "fontSize": 15, "offset": 3}, "data": {"name": "d"}, "transform": [{"filter": "datum.panel === 'catcher_v3'"}],
     "mark": {"type": "line", "strokeWidth": 1.6, "point": {"filled": true, "size": 40, "opacity": 1}},
     "encoding": {"x": {"field": "x", "type": "quantitative", "scale": {"domain": [-0.2, 4.2], "nice": false, "zero": false}, "axis": {"values": [0,2,4], "labels": false, "title": null}}, "y": {"field": "y", "type": "quantitative", "scale": {"domain": [0, 1], "nice": false}, "axis": {"values": [0.5], "labels": false, "title": null}},
      "color": {"field": "method", "type": "nominal", "scale": {"domain": ["TT-RTC","A2C2","TT-RTC + PAINT-Euler","A2C2 + PAINT-Euler"], "range": ["#2e9646","#4f93e0","#007a4d","#5b5bd6"]}, "legend": {"title": null}},
      "strokeDash": {"field": "method", "type": "nominal", "scale": {"domain": ["TT-RTC","A2C2","TT-RTC + PAINT-Euler","A2C2 + PAINT-Euler"], "range": [[8,4],[8,4],[1,0],[1,0]]}, "legend": {"title": null}}}}
   ]},
   {"bounds": "flush", "spacing": 37, "hconcat": [
    {"width": 123, "height": 93, "title": {"text": "h17_unicycle", "fontSize": 15, "offset": 3}, "data": {"name": "d"}, "transform": [{"filter": "datum.panel === 'h17_unicycle'"}],
     "mark": {"type": "line", "strokeWidth": 1.6, "point": {"filled": true, "size": 40, "opacity": 1}},
     "encoding": {"x": {"field": "x", "type": "quantitative", "scale": {"domain": [-0.2, 4.2], "nice": false, "zero": false}, "axis": {"values": [0,2,4], "labels": false, "title": null}}, "y": {"field": "y", "type": "quantitative", "scale": {"domain": [0, 1], "nice": false}, "axis": {"values": [0.5], "labels": false, "title": null}},
      "color": {"field": "method", "type": "nominal", "scale": {"domain": ["TT-RTC","A2C2","TT-RTC + PAINT-Euler","A2C2 + PAINT-Euler"], "range": ["#2e9646","#4f93e0","#007a4d","#5b5bd6"]}, "legend": {"title": null}},
      "strokeDash": {"field": "method", "type": "nominal", "scale": {"domain": ["TT-RTC","A2C2","TT-RTC + PAINT-Euler","A2C2 + PAINT-Euler"], "range": [[8,4],[8,4],[1,0],[1,0]]}, "legend": {"title": null}}}},
    {"width": 123, "height": 93, "title": {"text": "hard_lunar_lander", "fontSize": 15, "offset": 3}, "data": {"name": "d"}, "transform": [{"filter": "datum.panel === 'hard_lunar_lander'"}],
     "mark": {"type": "line", "strokeWidth": 1.6, "point": {"filled": true, "size": 40, "opacity": 1}},
     "encoding": {"x": {"field": "x", "type": "quantitative", "scale": {"domain": [-0.2, 4.2], "nice": false, "zero": false}, "axis": {"values": [0,2,4], "labels": false, "title": null}}, "y": {"field": "y", "type": "quantitative", "scale": {"domain": [0, 1], "nice": false}, "axis": {"values": [0.5], "labels": false, "title": null}},
      "color": {"field": "method", "type": "nominal", "scale": {"domain": ["TT-RTC","A2C2","TT-RTC + PAINT-Euler","A2C2 + PAINT-Euler"], "range": ["#2e9646","#4f93e0","#007a4d","#5b5bd6"]}, "legend": {"title": null}},
      "strokeDash": {"field": "method", "type": "nominal", "scale": {"domain": ["TT-RTC","A2C2","TT-RTC + PAINT-Euler","A2C2 + PAINT-Euler"], "range": [[8,4],[8,4],[1,0],[1,0]]}, "legend": {"title": null}}}}
   ]},
   {"bounds": "flush", "spacing": 37, "hconcat": [
    {"width": 123, "height": 93, "title": {"text": "mjc_half_cheetah", "fontSize": 15, "offset": 3}, "data": {"name": "d"}, "transform": [{"filter": "datum.panel === 'mjc_half_cheetah'"}],
     "mark": {"type": "line", "strokeWidth": 1.6, "point": {"filled": true, "size": 40, "opacity": 1}},
     "encoding": {"x": {"field": "x", "type": "quantitative", "scale": {"domain": [-0.2, 4.2], "nice": false, "zero": false}, "axis": {"values": [0,2,4], "labels": false, "title": null}}, "y": {"field": "y", "type": "quantitative", "scale": {"domain": [0, 1], "nice": false}, "axis": {"values": [0.5], "labels": false, "title": null}},
      "color": {"field": "method", "type": "nominal", "scale": {"domain": ["TT-RTC","A2C2","TT-RTC + PAINT-Euler","A2C2 + PAINT-Euler"], "range": ["#2e9646","#4f93e0","#007a4d","#5b5bd6"]}, "legend": {"title": null}},
      "strokeDash": {"field": "method", "type": "nominal", "scale": {"domain": ["TT-RTC","A2C2","TT-RTC + PAINT-Euler","A2C2 + PAINT-Euler"], "range": [[8,4],[8,4],[1,0],[1,0]]}, "legend": {"title": null}}}},
    {"width": 123, "height": 93, "title": {"text": "mjc_swimmer", "fontSize": 15, "offset": 3}, "data": {"name": "d"}, "transform": [{"filter": "datum.panel === 'mjc_swimmer'"}],
     "mark": {"type": "line", "strokeWidth": 1.6, "point": {"filled": true, "size": 40, "opacity": 1}},
     "encoding": {"x": {"field": "x", "type": "quantitative", "scale": {"domain": [-0.2, 4.2], "nice": false, "zero": false}, "axis": {"values": [0,2,4], "labels": false, "title": null}}, "y": {"field": "y", "type": "quantitative", "scale": {"domain": [0, 1], "nice": false}, "axis": {"values": [0.5], "labels": false, "title": null}},
      "color": {"field": "method", "type": "nominal", "scale": {"domain": ["TT-RTC","A2C2","TT-RTC + PAINT-Euler","A2C2 + PAINT-Euler"], "range": ["#2e9646","#4f93e0","#007a4d","#5b5bd6"]}, "legend": {"title": null}},
      "strokeDash": {"field": "method", "type": "nominal", "scale": {"domain": ["TT-RTC","A2C2","TT-RTC + PAINT-Euler","A2C2 + PAINT-Euler"], "range": [[8,4],[8,4],[1,0],[1,0]]}, "legend": {"title": null}}}}
   ]},
   {"bounds": "flush", "spacing": 37, "hconcat": [
    {"width": 123, "height": 93, "title": {"text": "mjc_walker", "fontSize": 15, "offset": 3}, "data": {"name": "d"}, "transform": [{"filter": "datum.panel === 'mjc_walker'"}],
     "mark": {"type": "line", "strokeWidth": 1.6, "point": {"filled": true, "size": 40, "opacity": 1}},
     "encoding": {"x": {"field": "x", "type": "quantitative", "scale": {"domain": [-0.2, 4.2], "nice": false, "zero": false}, "axis": {"values": [0,2,4], "labels": false, "title": null}}, "y": {"field": "y", "type": "quantitative", "scale": {"domain": [0, 1], "nice": false}, "axis": {"values": [0.5], "labels": false, "title": null}},
      "color": {"field": "method", "type": "nominal", "scale": {"domain": ["TT-RTC","A2C2","TT-RTC + PAINT-Euler","A2C2 + PAINT-Euler"], "range": ["#2e9646","#4f93e0","#007a4d","#5b5bd6"]}, "legend": {"title": null}},
      "strokeDash": {"field": "method", "type": "nominal", "scale": {"domain": ["TT-RTC","A2C2","TT-RTC + PAINT-Euler","A2C2 + PAINT-Euler"], "range": [[8,4],[8,4],[1,0],[1,0]]}, "legend": {"title": null}}}},
    {"width": 123, "height": 93, "title": {"text": "trampoline", "fontSize": 15, "offset": 3}, "data": {"name": "d"}, "transform": [{"filter": "datum.panel === 'trampoline'"}],
     "mark": {"type": "line", "strokeWidth": 1.6, "point": {"filled": true, "size": 40, "opacity": 1}},
     "encoding": {"x": {"field": "x", "type": "quantitative", "scale": {"domain": [-0.2, 4.2], "nice": false, "zero": false}, "axis": {"values": [0,2,4], "labels": false, "title": null}}, "y": {"field": "y", "type": "quantitative", "scale": {"domain": [0, 1], "nice": false}, "axis": {"values": [0.5], "labels": false, "title": null}},
      "color": {"field": "method", "type": "nominal", "scale": {"domain": ["TT-RTC","A2C2","TT-RTC + PAINT-Euler","A2C2 + PAINT-Euler"], "range": ["#2e9646","#4f93e0","#007a4d","#5b5bd6"]}, "legend": {"title": null}},
      "strokeDash": {"field": "method", "type": "nominal", "scale": {"domain": ["TT-RTC","A2C2","TT-RTC + PAINT-Euler","A2C2 + PAINT-Euler"], "range": [[8,4],[8,4],[1,0],[1,0]]}, "legend": {"title": null}}}}
   ]}
  ]}
 ]}
]
}
